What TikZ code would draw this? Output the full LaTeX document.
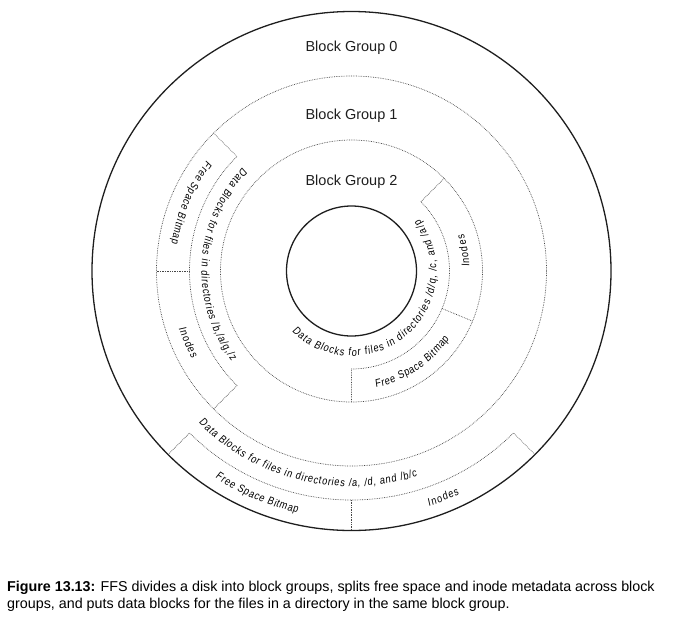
\documentclass[tikz,border=0pt]{standalone}
\usepackage{fontspec}
\setmainfont{Liberation Sans}
\newfontfamily\arcfont[FakeStretch=0.84,FakeSlant=0.1]{Liberation Sans}
\usepackage{tikz}
\usetikzlibrary{positioning,decorations.text}
\usepackage{xcolor}
\definecolor{ffsblack}{RGB}{30,30,30}
\definecolor{ffsgray}{RGB}{70,70,70}
\newcommand{\arcsize}{\arcfont\fontsize{11}{13}\selectfont}
\tikzstyle{disk} = [line width=1.3pt, draw=ffsblack]
\tikzstyle{split} = [line width=0.7pt, densely dotted, draw=ffsgray]
\tikzstyle{grouplabel} = [font=\fontsize{14.5}{17}\selectfont, text=ffsblack, inner sep=0pt, anchor=base]
\tikzstyle{caption} = [font=\fontsize{14.3}{17}\selectfont, inner sep=0pt, anchor=base west]
\tikzset{arclabel/.style={decorate, decoration={text along path, text align=fit to path, text={|\arcsize|#1}}}}

\begin{document}
\begin{tikzpicture}[x=1pt, y=1pt]
\useasboundingbox (0,0) rectangle (693,-624);
\coordinate (hub) at (351.5,-271);

\begin{scope}[shift={(hub)}]
% disk edge and spindle hole
\draw[disk] (0,0) circle[radius=259.5];
\draw[disk] (0,0) circle[radius=65];

% block group boundaries
\draw[split] (0,0) circle[radius=195];
\draw[split] (0,0) circle[radius=131];

% group 2 metadata (right)
\draw[split] (45:131) -- (45:98) arc[start angle=45, end angle=-90, radius=98] -- (-90:131);
\draw[split] (-22.5:98) -- (-22.5:131);

% group 1 metadata (left)
\draw[split] (135:195) -- (135:162) arc[start angle=135, end angle=225, radius=162] -- (225:195);
\draw[split] (180:162) -- (180:195);

% group 0 metadata (bottom)
\draw[split] (225:259.5) -- (225:229) arc[start angle=225, end angle=315, radius=229] -- (315:259.5);
\draw[split] (270:229) -- (270:259.5);

% track labels
\path[arclabel={Data Blocks for files in directories /d/q, /c, and /a/p}] (225.4:85) arc[start angle=225.4, end angle=397, radius=85];
\path[arclabel={Inodes}] (2:118) arc[start angle=2, end angle=18, radius=118];
\path[arclabel={Free Space Bitmap}] (-78.2:119) arc[start angle=-78.2, end angle=-34.8, radius=119];

\path[arclabel={Data Blocks for files in directories /b,/a/g,/z}] (136.5:150) arc[start angle=136.5, end angle=216.8, radius=150];
\path[arclabel={Free Space Bitmap}] (142.8:182) arc[start angle=142.8, end angle=171.2, radius=182];
\path[arclabel={Inodes}] (198.3:182) arc[start angle=198.3, end angle=208.7, radius=182];

\path[arclabel={Data Blocks for files in directories /a, /d, and /b/c}] (224.8:215.5) arc[start angle=224.8, end angle=287.7, radius=215.5];
\path[arclabel={Free Space Bitmap}] (236.6:247.8) arc[start angle=236.6, end angle=257.4, radius=247.8];
\path[arclabel={Inodes}] (288.2:247.8) arc[start angle=288.2, end angle=295.8, radius=247.8];
\end{scope}

\node (bg0) [grouplabel] at (351.5,-51) {Block Group 0};
\node (bg1) [grouplabel] at (351.5,-119.5) {Block Group 1};
\node (bg2) [grouplabel] at (351.5,-185) {Block Group 2};

\node (cap1) [caption] at (7,-591.5) {\textbf{Figure 13.13:} FFS divides a disk into block groups, splits free space and inode metadata across block};
\node (cap2) [caption] at (7,-608.5) {groups, and puts data blocks for the files in a directory in the same block group.};
\end{tikzpicture}
\end{document}
